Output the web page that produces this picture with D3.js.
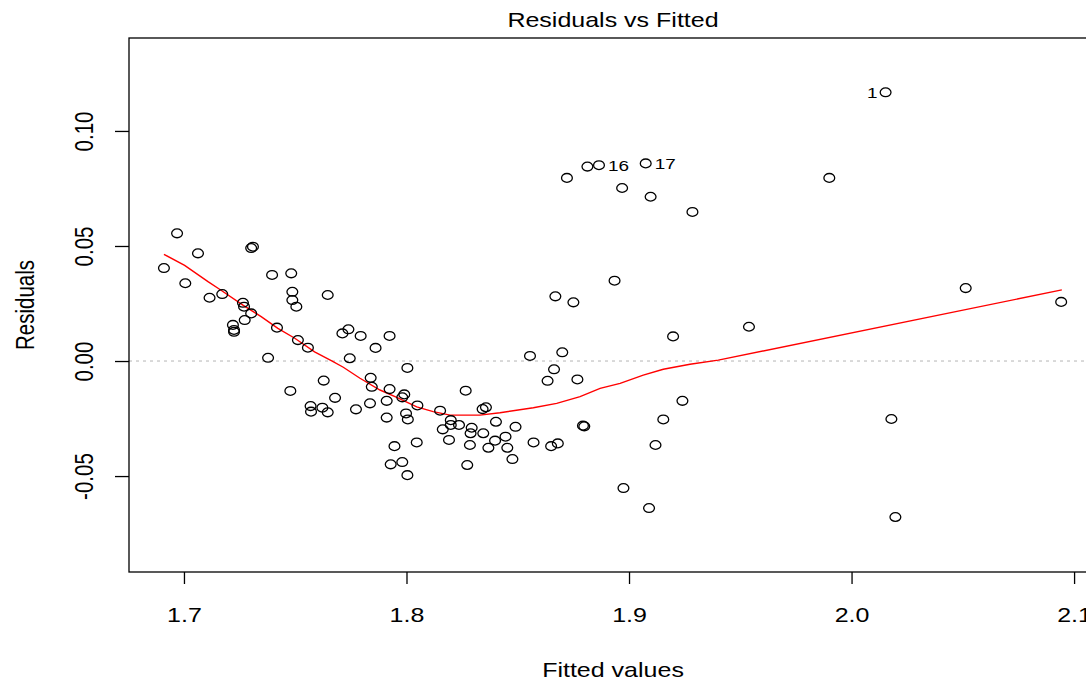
<!DOCTYPE html>
<html>
<head>
<meta charset="utf-8">
<script src="https://cdn.jsdelivr.net/npm/d3@7"></script>
<style>
  body { margin: 0; background: #fff; }
  svg { display: block; font-family: "Liberation Sans", Arial, sans-serif; }
</style>
</head>
<body>
<svg id="chart"></svg>
<script>
// fitted values and residuals
const fittedValues = [
  1.6910, 1.6969, 1.7006, 1.7063, 1.7115, 1.7172, 1.7220, 1.7225, 1.7225, 1.7265,
  1.7270, 1.7273, 1.7302, 1.7302, 1.7310, 1.7378, 1.7396, 1.7418, 1.7478, 1.7482,
  1.7487, 1.7487, 1.7505, 1.7512, 1.7557, 1.7569, 1.7571, 1.7622, 1.7628, 1.7646,
  1.7646, 1.7679, 1.7712, 1.7739, 1.7745, 1.7773, 1.7794, 1.7836, 1.7839, 1.7844,
  1.7861, 1.7911, 1.7911, 1.7924, 1.7924, 1.7929, 1.7946, 1.7981, 1.7981, 1.7990,
  1.7998, 1.8004, 1.8004, 1.8006, 1.8046, 1.8049, 1.8151, 1.8163, 1.8191, 1.8199,
  1.8199, 1.8236, 1.8266, 1.8273, 1.8285, 1.8288, 1.8293, 1.8342, 1.8345, 1.8357,
  1.8368, 1.8398, 1.8402, 1.8445, 1.8453, 1.8476, 1.8490, 1.8555, 1.8571, 1.8634,
  1.8650, 1.8663, 1.8669, 1.8680, 1.8700, 1.8721, 1.8750, 1.8768, 1.8793, 1.8799,
  1.8813, 1.8865, 1.8935, 1.8969, 1.8975, 1.9075, 1.9090, 1.9097, 1.9119, 1.9154,
  1.9198, 1.9240, 1.9285, 1.9539, 1.9900, 2.0153, 2.0179, 2.0197, 2.0513, 2.0942
];
const residualValues = [
  0.0404, 0.0555, 0.0338, 0.0468, 0.0275, 0.0291, 0.0157, 0.0135, 0.0127, 0.0253,
  0.0236, 0.0178, 0.0207, 0.0491, 0.0497, 0.0014, 0.0374, 0.0145, -0.0130, 0.0381,
  0.0301, 0.0265, 0.0236, 0.0091, 0.0058, -0.0196, -0.0220, -0.0203, -0.0085, 0.0287,
  -0.0223, -0.0160, 0.0120, 0.0138, 0.0012, -0.0210, 0.0109, -0.0184, -0.0073, -0.0112,
  0.0057, -0.0173, -0.0246, 0.0109, -0.0122, -0.0449, -0.0370, -0.0158, -0.0439, -0.0145,
  -0.0228, -0.0030, -0.0496, -0.0254, -0.0354, -0.0193, -0.0216, -0.0297, -0.0343, -0.0257,
  -0.0278, -0.0278, -0.0129, -0.0452, -0.0365, -0.0314, -0.0290, -0.0209, -0.0314, -0.0201,
  -0.0377, -0.0346, -0.0264, -0.0329, -0.0377, -0.0426, -0.0286, 0.0022, -0.0354, -0.0086,
  -0.0370, -0.0036, 0.0281, -0.0358, 0.0038, 0.0796, 0.0255, -0.0080, -0.0281, -0.0284,
  0.0845, 0.0851, 0.0349, 0.0752, -0.0552, 0.0859, -0.0639, 0.0714, -0.0365, -0.0254,
  0.0107, -0.0173, 0.0648, 0.0149, 0.0796, 0.1168, -0.0252, -0.0678, 0.0317, 0.0257
];

// observation labels shown next to the largest residuals
const labelIndex = [105, 91, 95];
const labelText = ["1", "16", "17"];
const labelSide = ["left", "right", "right"];

// red smoother
const smoothX = [1.6910, 1.7003, 1.7108, 1.7160, 1.7265, 1.7347, 1.7422, 1.7498, 1.7587, 1.7664,
  1.7716, 1.7791, 1.7881, 1.7956, 1.8046, 1.8120, 1.8196, 1.8330, 1.8420, 1.8570,
  1.8675, 1.8780, 1.8870, 1.8960, 1.9064, 1.9154, 1.9274, 1.9401, 2.0945];
const smoothY = [0.0464, 0.0416, 0.0345, 0.0312, 0.0243, 0.0193, 0.0142, 0.0099, 0.0040, 0.0001,
  -0.0027, -0.0075, -0.0126, -0.0158, -0.0199, -0.0220, -0.0235, -0.0235, -0.0225, -0.0203,
  -0.0184, -0.0155, -0.0119, -0.0097, -0.0061, -0.0036, -0.0014, 0.0004, 0.0309];

const xTicks = [1.7, 1.8, 1.9, 2.0, 2.1];
const yTicks = [-0.05, 0, 0.05, 0.10];

const W = 1086, H = 681;
const sx = 1.22; // the source image is stretched horizontally
const fs = 20.5;
const box = {left: 129, right: 1097, top: 38, bottom: 572};

const svg = d3.select("#chart").attr("width", W).attr("height", H);

const x = d3.scaleLinear().domain([1.6753, 2.1103]).range([box.left, box.right]);
const y = d3.scaleLinear().domain([-0.0917, 0.1404]).range([box.bottom, box.top]);

// zero line
svg.append("line")
  .attr("x1", box.left).attr("x2", box.right)
  .attr("y1", y(0)).attr("y2", y(0))
  .attr("stroke", "#b4b4b4").attr("stroke-width", 1)
  .attr("stroke-dasharray", "3,4");

// frame
svg.append("rect")
  .attr("x", box.left).attr("y", box.top)
  .attr("width", box.right - box.left).attr("height", box.bottom - box.top)
  .attr("fill", "none").attr("stroke", "#000").attr("stroke-width", 1.3);

// x axis
const gx = svg.append("g")
  .attr("transform", `translate(0,${box.bottom})`)
  .call(d3.axisBottom(x).tickValues(xTicks).tickSize(12).tickFormat(d => d.toFixed(1)));
gx.select(".domain").remove();
gx.selectAll(".tick line").attr("stroke", "#000").attr("stroke-width", 1.3);
gx.selectAll(".tick text")
  .attr("y", 50).attr("dy", null)
  .attr("transform", `scale(${sx},1)`)
  .attr("fill", "#000").attr("font-size", fs)
  .attr("font-family", "Liberation Sans, Arial, sans-serif");

// y axis
const gy = svg.append("g")
  .attr("transform", `translate(${box.left},0)`)
  .call(d3.axisLeft(y).tickValues(yTicks).tickSize(14).tickFormat(d => d.toFixed(2)));
gy.select(".domain").remove();
gy.selectAll(".tick line").attr("stroke", "#000").attr("stroke-width", 1.3);
gy.selectAll(".tick text")
  .attr("x", 0).attr("y", -36 / sx).attr("dy", null)
  .attr("text-anchor", "middle")
  .attr("transform", `scale(${sx},1) rotate(-90)`)
  .attr("fill", "#000").attr("font-size", fs)
  .attr("font-family", "Liberation Sans, Arial, sans-serif");

// smoother
const line = d3.line().x(d => x(d[0])).y(d => y(d[1]));
svg.append("path")
  .datum(d3.zip(smoothX, smoothY))
  .attr("d", line)
  .attr("fill", "none").attr("stroke", "#ff0000").attr("stroke-width", 1.4);

// points
svg.append("g")
  .selectAll("ellipse")
  .data(d3.zip(fittedValues, residualValues))
  .join("ellipse")
  .attr("cx", d => x(d[0]))
  .attr("cy", d => y(d[1]))
  .attr("rx", 5.4).attr("ry", 4.4)
  .attr("fill", "none").attr("stroke", "#000").attr("stroke-width", 1.3);

// point labels
svg.append("g")
  .selectAll("text")
  .data(labelIndex.map((idx, i) => ({idx, text: labelText[i], side: labelSide[i]})))
  .join("text")
  .attr("transform", d => {
    const cx = x(fittedValues[d.idx]) + (d.side === "left" ? -8 : 9);
    return `translate(${cx},${y(residualValues[d.idx]) + 5.5}) scale(${sx},1)`;
  })
  .attr("text-anchor", d => d.side === "left" ? "end" : "start")
  .attr("font-size", 15.5).attr("fill", "#000")
  .text(d => d.text);

// titles
const mid = (box.left + box.right) / 2;
svg.append("text")
  .attr("transform", `translate(${mid},27) scale(${sx},1)`)
  .attr("text-anchor", "middle").attr("font-size", fs).attr("fill", "#000")
  .text("Residuals vs Fitted");

svg.append("text")
  .attr("transform", `translate(${mid},677) scale(${sx},1)`)
  .attr("text-anchor", "middle").attr("font-size", fs).attr("fill", "#000")
  .text("Fitted values");

svg.append("text")
  .attr("transform", `translate(34,${(box.top + box.bottom) / 2}) scale(${sx},1) rotate(-90)`)
  .attr("text-anchor", "middle").attr("font-size", fs).attr("fill", "#000")
  .text("Residuals");
</script>
</body>
</html>
